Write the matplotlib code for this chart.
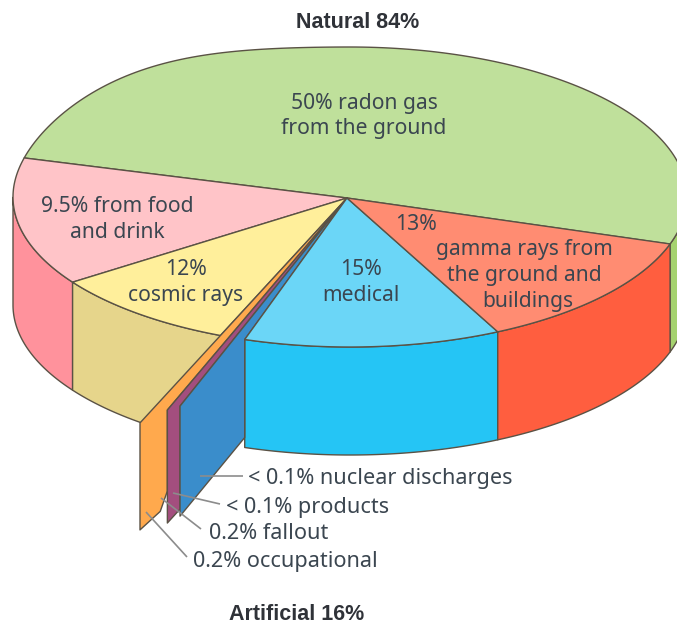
import numpy as np
import matplotlib
matplotlib.use("Agg")
import matplotlib.pyplot as plt
from matplotlib.patches import Polygon

# ---- data ----
slice_names = ["radon", "food", "cosmic", "medical", "gamma"]
slice_shares = [50, 9.5, 12, 15, 13]
artificial_shares = [0.4, 0.1, 0.1]   # occupational + fallout, products, nuclear discharges
slice_labels = [["50% radon gas", "from the ground"], ["9.5% from food", "and drink"],
                ["12%", "cosmic rays"], ["15%", "medical"]]
gamma_labels = ["13%", "gamma rays from", "the ground and", "buildings"]
leader_labels = ["< 0.1% nuclear discharges", "< 0.1% products", "0.2% fallout", "0.2% occupational"]
titles = ["Natural 84%", "Artificial 16%"]

# ---- styling / projection ----
top_colors = ["#BFE09B", "#FFC4C8", "#FFEF9B", "#6BD6F7", "#FF8C72"]
wall_colors = ["#A5D26F", "#FF929C", "#E6D58B", "#25C5F5", "#FF5E3F"]
panel_colors = ["#FFA94D", "#A34E7E", "#3A8DCB"]
EDGE = "#5A5245"
TEXT = "#3B4650"
LEAD = "#8C8C8C"
deg_per_share = [3.67, 5.2, 2.733, 2.947, 3.52]   # perspective foreshortening of each slice
panel_deg_per_share = [4.0, 10.0, 18.0]
panel_reach = [1.636, 1.525, 1.487, 1.0]
panel_depth = [(107, 103), (113, 103), (110, 98)]
START = -18.3
CX, CY, RX, RY, RY_BULGE = 350, 197, 337, 150, 12
AX, AY = 347, 198
WALL = 108

fig = plt.figure(figsize=(6.77, 6.25), dpi=100)
ax = fig.add_axes([0, 0, 1, 1])
ax.set_xlim(0, 677)
ax.set_ylim(625, 0)
ax.axis("off")


def rim(deg):
    t = np.radians(np.asarray(deg, dtype=float))
    s, c = np.sin(t), np.cos(t)
    bulge = np.where((s > 0) & (c < 0), RY_BULGE * np.sin(2 * t) ** 2, 0.0)
    return np.column_stack([CX + RX * c, CY - (RY + bulge) * s])


def poly(pts, color, z):
    ax.add_patch(Polygon(pts, closed=True, facecolor=color, edgecolor=EDGE,
                         linewidth=1.0, joinstyle="round", zorder=z))


sweeps = [s * d for s, d in zip(slice_shares, deg_per_share)]
panel_sweeps = [s * d for s, d in zip(artificial_shares, panel_deg_per_share)]
bounds = {}
a = START
for i, name in enumerate(slice_names):
    if name == "medical":
        a += sum(panel_sweeps)
    bounds[i] = (a, a + sweeps[i])
    a += sweeps[i]

# pie walls and top faces
for i in range(5):
    a0, a1 = bounds[i]
    arc = rim(np.linspace(a0, a1, 160))
    # only the front half of the rim shows a wall
    front = np.sin(np.radians(np.linspace(a0, a1, 160))) <= 0
    f = arc[front]
    if len(f):
        wall = np.vstack([f, (f + [0, WALL])[::-1]])
        poly(wall, wall_colors[i], 2 + (i == 3) * 4 + (i == 4) * 4)
    poly(np.vstack([[AX, AY], arc]), top_colors[i], 3 + (i == 3) * 5 + (i == 4) * 5)

# artificial sliver panels, swung out of the pie
a = bounds[2][1]
for i in range(3):
    a0, a1 = a, a + panel_sweeps[i]
    a = a1
    apex = np.array([AX, AY], dtype=float)
    p0 = apex + panel_reach[i] * (rim([a0])[0] - apex)
    p1 = apex + panel_reach[i + 1] * (rim([a1])[0] - apex)
    d0, d1 = panel_depth[i]
    if i == 0:
        notch = p0 + 0.74 * (p1 - p0) + [0, 98]
        lower = [p0 + [0, d0], notch, p1 + [0, 81]]
    else:
        lower = [p0 + [0, d0], p1 + [0, d1]]
    poly(np.vstack([apex, p0, *lower, p1]), panel_colors[i], 6)

# leaders
leaders = [((200, 476), (243, 476)), ((173, 493), (220, 504)),
           ((161, 498), (201, 529)), ((146, 512), (187, 557))]
for (x0, y0), (x1, y1) in leaders:
    ax.plot([x0, x1], [y0, y1], color=LEAD, lw=1.2, zorder=9, solid_capstyle="butt")

# text
FONT = "Noto Sans"
FS = 15.2
FS_LEADER = 15.6


def label(x, y, s, ha="center", size=FS):
    ax.text(x, y + 1.5, s, ha=ha, va="center", fontsize=size, color=TEXT, family=FONT,
            fontweight="light", zorder=12)


for (x, ys), lines in zip([(364, (102, 127)), (117, (205, 231)), (186, (268, 294)), (361, (268, 294))],
                          slice_labels):
    for y, s in zip(ys, lines):
        label(x, y, s)
for (x, y), s in zip([(416, 223), (524, 248), (524, 274), (528, 300)], gamma_labels):
    label(x, y, s)
for (x, y), s in zip([(248, 477), (226, 506), (209, 532), (193, 560)], leader_labels):
    label(x, y, s, ha="left", size=FS_LEADER)

bold = ["Liberation Sans Narrow", "Liberation Sans"]
ax.text(358, 22, titles[0], ha="center", va="center", fontsize=15.5, fontweight="bold",
        color="#2F3238", family=bold, zorder=12)
ax.text(297, 614, titles[1], ha="center", va="center", fontsize=15.5, fontweight="bold",
        color="#2F3238", family=bold, zorder=12)

fig.savefig("out.png", dpi=100)
